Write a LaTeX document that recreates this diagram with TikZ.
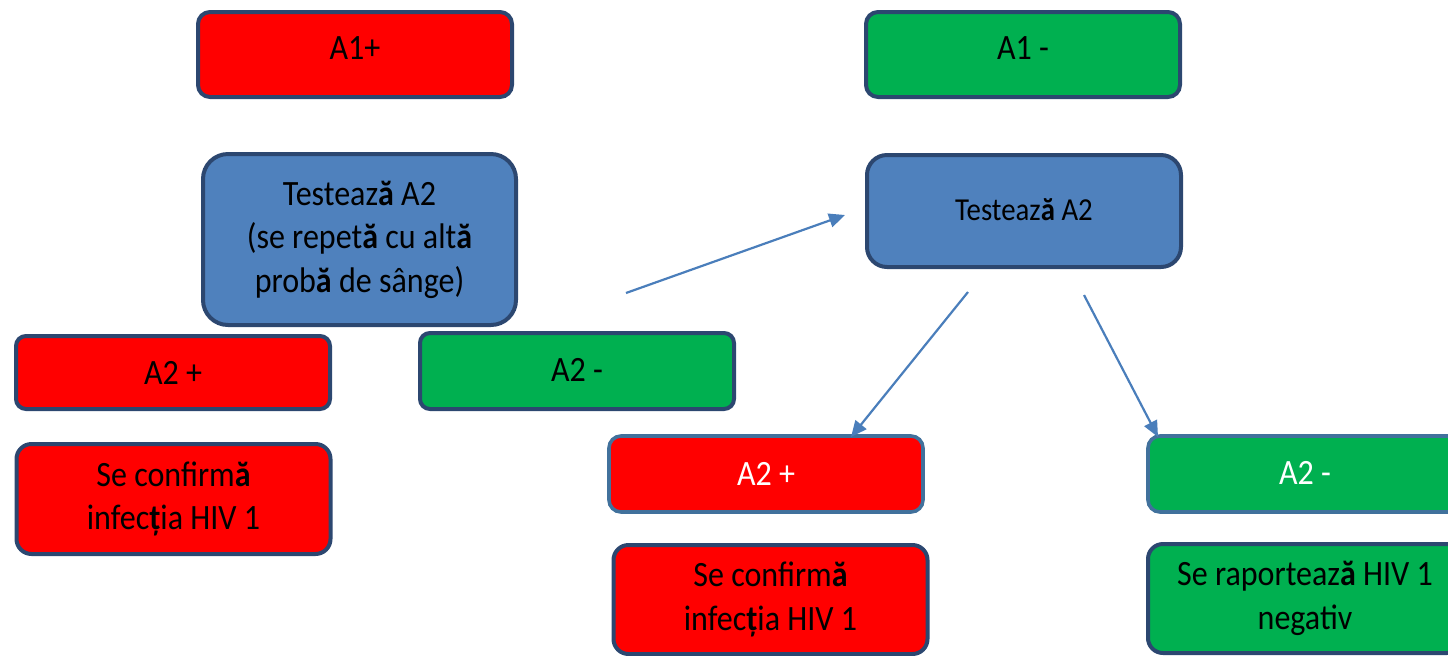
\documentclass[tikz,border=0pt]{standalone}
\usepackage{fontspec}
\setmainfont{Carlito}[FakeStretch=0.9]
\usetikzlibrary{arrows.meta}
\definecolor{cred}{HTML}{FF0000}
\definecolor{cgreen}{HTML}{00B050}
\definecolor{cblue}{HTML}{4F81BD}
\definecolor{cnavy}{HTML}{2C4770}
\definecolor{clight}{HTML}{41719C}
\definecolor{carrow}{HTML}{4A7EBB}
\begin{document}
\begin{tikzpicture}[x=0.5pt,y=-0.5pt,
  box/.style={draw=cnavy, line width=2pt, inner sep=0pt, align=center,
    minimum width=157pt, font=\fontsize{17.8}{21.7}\selectfont},
  redbox/.style={box, fill=cred},
  greenbox/.style={box, fill=cgreen},
  bluebox/.style={box, fill=cblue},
  lightedge/.style={draw=clight, line width=1.8pt, text=white},
  conn/.style={draw=carrow, line width=1.1pt, -{Triangle[length=8pt,width=7pt]}}]
\useasboundingbox (0,0) rectangle (1448,655);
% top row
\node[redbox, minimum height=42.5pt, rounded corners=6pt] (a1p) at (355,54.5) {\raisebox{6pt}{A1+}};
\node[greenbox, minimum height=42.5pt, rounded corners=6pt] (a1m) at (1023,54.5) {\raisebox{6pt}{A1 -}};
% blue boxes
\node[bluebox, minimum width=156.5pt, minimum height=85.5pt, rounded corners=12.5pt] (t1) at (359.5,239.5)
  {Testeaz\textbf{ă} A2\\(se repet\textbf{ă} cu alt\textbf{ă}\\prob\textbf{ă} de sânge)};
\node[bluebox, minimum height=56pt, rounded corners=10pt, font=\fontsize{16}{19.5}\selectfont] (t2) at (1024,211)
  {\raisebox{1pt}{Testeaz\textbf{ă} A2}};
% left branch
\node[redbox, minimum height=36.5pt, rounded corners=5pt] (a2pl) at (173,372.5) {A2 +};
\node[greenbox, minimum height=38pt, rounded corners=5pt] (a2ml) at (577,371) {\raisebox{1.5pt}{A2 -}};
\node[redbox, minimum height=55pt, rounded corners=7.5pt] (cl) at (173.5,499)
  {Se confirm\textbf{ă}\\infec\textbf{ț}ia HIV 1};
% right branch
\node[redbox, lightedge, minimum height=38pt, rounded corners=6pt] (a2pm) at (766,474) {A2 +};
\node[redbox, minimum height=54.5pt, rounded corners=7.5pt] (cm) at (770.5,599.5)
  {Se confirm\textbf{ă}\\infec\textbf{ț}ia HIV 1};
\node[greenbox, lightedge, minimum height=38pt, rounded corners=6pt] (a2mr) at (1305,474) {\raisebox{1.5pt}{A2 -}};
\node[greenbox, minimum height=54.5pt, rounded corners=7.5pt] (cr) at (1305,598.5)
  {Se raporteaz\textbf{ă} HIV 1\\negativ};
% connectors
\coordinate (s1) at (626,293);
\coordinate (e1) at (845,215);
\coordinate (s2) at (968,292);
\coordinate (e2) at (851,437);
\coordinate (s3) at (1084,295);
\coordinate (e3) at (1158,437);
\draw[conn] (s1) -- (e1);
\draw[conn] (s2) -- (e2);
\draw[conn] (s3) -- (e3);
\end{tikzpicture}
\end{document}
